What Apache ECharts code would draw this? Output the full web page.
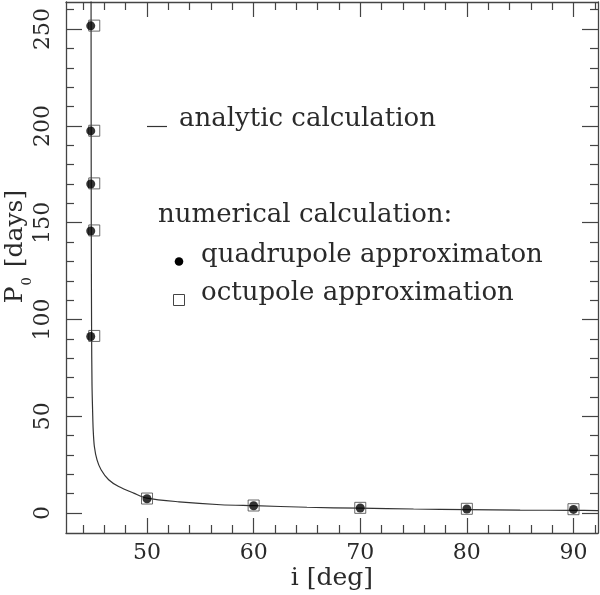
<!DOCTYPE html>
<html>
<head>
<meta charset="utf-8">
<script src="https://cdn.jsdelivr.net/npm/echarts@6/dist/echarts.min.js"></script>
<style>
  html, body { margin: 0; padding: 0; background: #fff; }
  #chart { width: 600px; height: 595px; }
</style>
</head>
<body>
<div id="chart"></div>
<script>
// analytic curve
var iCurve = [44.75, 44.77, 44.8, 44.84, 44.9, 44.95, 45.06, 45.31, 45.69, 46.4, 47.34, 48.75, 50, 53, 56.9, 60, 65, 70, 75, 80, 85, 90, 92.3];
var pCurve = [270, 150, 95, 66, 52, 43, 34.4, 27.5, 22.4, 17.2, 13.7, 10.3, 7.7, 5.8, 4.3, 3.8, 3.0, 2.5, 2.1, 1.8, 1.5, 1.4, 1.3];

// numerical: quadrupole (filled dots)
var iQuad = [44.72, 44.72, 44.72, 44.72, 44.72, 50, 60, 70, 80, 90];
var pQuad = [251.7, 197.4, 170.0, 145.7, 91.2, 7.4, 3.8, 2.6, 2.1, 1.9];

// numerical: octupole (open squares)
var iOct = [45.05, 45.05, 45.05, 45.05, 45.05, 50, 60, 70, 80, 90];
var pOct = [251.8, 197.5, 170.3, 146.0, 91.5, 7.5, 3.9, 2.7, 2.2, 2.0];

// tick values
var xMajor = [50, 60, 70, 80, 90];
var xMinor = [44, 46, 48, 52, 54, 56, 58, 62, 64, 66, 68, 72, 74, 76, 78, 82, 84, 86, 88, 92];
var yMajor = [0, 50, 100, 150, 200, 250];
var yMinor = [10, 20, 30, 40, 60, 70, 80, 90, 110, 120, 130, 140, 160, 170, 180, 190, 210, 220, 230, 240, 260];

function zip(a, b) {
  return a.map(function (v, k) { return [v, b[k]]; });
}

var FONT = '"DejaVu Serif"';
var INK = '#2a2a2a';
var FRAME = '#444';

function xAx(pos, ticks, len, main) {
  return {
    type: 'value', position: pos, min: 42.4, max: 92.3,
    splitLine: { show: false },
    axisLine: { show: main, onZero: false, lineStyle: { color: FRAME, width: 1.3 } },
    axisTick: { show: true, inside: true, length: len, customValues: ticks, lineStyle: { color: FRAME, width: 1.2 } },
    axisLabel: { show: main && pos === 'bottom', customValues: xMajor, margin: 9, color: INK, fontFamily: FONT, fontSize: 22 },
    name: main && pos === 'bottom' ? 'i [deg]' : '',
    nameLocation: 'middle', nameGap: 33, nameMoveOverlap: false,
    nameTextStyle: { color: INK, fontFamily: FONT, fontSize: 25 }
  };
}

function yAx(pos, ticks, len, main) {
  return {
    type: 'value', position: pos, min: -10.3, max: 264,
    splitLine: { show: false },
    axisLine: { show: main, onZero: false, lineStyle: { color: FRAME, width: 1.3 } },
    axisTick: { show: true, inside: true, length: len, customValues: ticks, lineStyle: { color: FRAME, width: 1.2 } },
    axisLabel: { show: main && pos === 'left', customValues: yMajor, rotate: 90, margin: 12, color: INK, fontFamily: FONT, fontSize: 22 },
    name: main && pos === 'left' ? '{p|P}{s|0}{p| [days]}' : '',
    nameLocation: 'middle', nameGap: 32, nameRotate: 90, nameMoveOverlap: false,
    nameTextStyle: {
      padding: [0, 0, 0, 42],
      rich: {
        p: { color: INK, fontFamily: FONT, fontSize: 25, lineHeight: 26, padding: [0, 0, 6, 0], verticalAlign: 'bottom' },
        s: { color: INK, fontFamily: FONT, fontSize: 13, lineHeight: 14, padding: [0, 2, 0, 1], verticalAlign: 'bottom' }
      }
    }
  };
}

var chart = echarts.init(document.getElementById('chart'));
chart.setOption({
  backgroundColor: '#fff',
  animation: false,
  grid: { left: 66, right: 2, top: 2, bottom: 62, containLabel: false, outerBoundsMode: 'none' },
  xAxis: [
    xAx('bottom', xMajor, 15, true),
    xAx('bottom', xMinor, 8, false),
    xAx('top', xMajor, 15, true),
    xAx('top', xMinor, 8, false)
  ],
  yAxis: [
    yAx('left', yMajor, 16, true),
    yAx('left', yMinor, 8, false),
    yAx('right', yMajor, 16, true),
    yAx('right', yMinor, 8, false)
  ],
  series: [
    {
      name: 'analytic calculation', type: 'line', data: zip(iCurve, pCurve),
      showSymbol: false, smooth: 0.3, clip: true,
      lineStyle: { color: '#333', width: 1.2 }, z: 2
    },
    {
      name: 'octupole approximation', type: 'scatter', data: zip(iOct, pOct),
      symbol: 'rect', symbolSize: 11,
      itemStyle: { color: 'rgba(0,0,0,0)', borderColor: '#444', borderWidth: 1 }, z: 3
    },
    {
      name: 'quadrupole approximaton', type: 'scatter', data: zip(iQuad, pQuad),
      symbol: 'circle', symbolSize: 9,
      itemStyle: { color: '#000' }, z: 4
    }
  ],
  graphic: [
    { type: 'line', shape: { x1: 147, y1: 126.5, x2: 167, y2: 126.5 }, style: { stroke: '#333', lineWidth: 1.2 } },
    { type: 'text', x: 179, y: 119, style: { text: 'analytic calculation', font: '26px ' + FONT, fill: INK, verticalAlign: 'middle' } },
    { type: 'text', x: 158, y: 215, style: { text: 'numerical calculation:', font: '26px ' + FONT, fill: INK, verticalAlign: 'middle' } },
    { type: 'circle', shape: { cx: 179, cy: 261.5, r: 4.3 }, style: { fill: '#000' } },
    { type: 'text', x: 201, y: 255, style: { text: 'quadrupole approximaton', font: '26px ' + FONT, fill: INK, verticalAlign: 'middle' } },
    { type: 'rect', shape: { x: 173.5, y: 294.5, width: 11, height: 11 }, style: { fill: 'none', stroke: '#444', lineWidth: 1 } },
    { type: 'text', x: 201, y: 293, style: { text: 'octupole approximation', font: '26px ' + FONT, fill: INK, verticalAlign: 'middle' } }
  ]
});
</script>
</body>
</html>
